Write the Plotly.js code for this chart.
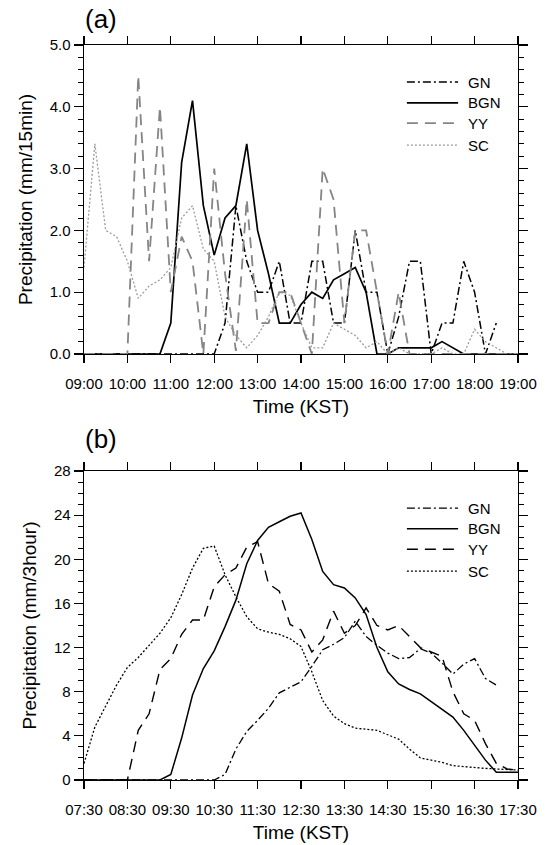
<!DOCTYPE html>
<html><head><meta charset="utf-8">
<script src="https://cdn.plot.ly/plotly-3.0.1.min.js"></script>
<style>html,body{margin:0;padding:0;background:#fff}#chart{width:555px;height:845px}</style>
</head><body><div id="chart"></div>
<script>
// ---------- DATA ----------
const seriesNames = ['GN', 'BGN', 'YY', 'SC'];

// Panel (a): 15-min precipitation (mm/15min)
const timesA = ['09:00','09:15','09:30','09:45','10:00','10:15','10:30','10:45','11:00','11:15','11:30','11:45',
  '12:00','12:15','12:30','12:45','13:00','13:15','13:30','13:45','14:00','14:15','14:30','14:45',
  '15:00','15:15','15:30','15:45','16:00','16:15','16:30','16:45','17:00','17:15','17:30','17:45',
  '18:00','18:15','18:30','18:45','19:00'];
const gnA  = [0,0,0,0,0,0,0,0,0,0,0,0,0, 0.5,2.4,1.5,1.0,1.0,1.5,0.5,0.5,1.5,1.5,0.5,0.5,2.0,1.0,1.0,0,0.6,1.5,1.5,0,0.5,0.5,1.5,1.0,0,0.5];
const bgnA = [0,0,0,0,0,0,0,0, 0.5,3.1,4.1,2.4,1.6,2.2,2.4,3.4,2.0,1.3,0.5,0.5,0.8,1.0,0.9,1.2,1.3,1.4,1.0,0,0,0.1,0.1,0.1,0.1,0.2,0.1,0,0,0,0,0,0];
const yyA  = [0,0,0,0,0, 4.5,1.5,4.0,1.0,1.9,1.5,0,3.0,1.3,0.05,2.5,0.5,0.5,1.0,1.0,0.5,0,3.0,2.5,0.5,2.0,2.0,1.0,0,1.0,0, 0,0,0,0,0,0,0,0,0,0];
const scA  = [1.4,3.4,2.0,1.9,1.5,0.9,1.1,1.2,1.4,2.2,2.4,1.7,1.5,0.6,0.3,0.1,0.3,0.6,1.0,0.95,0.5,0.1,0.1,0.5,0.4,0.3,0.1,0.2,0,0.1,0,0,0,0.1,0,0,0.4,0.2,0.1,0,0];
const tickLabelsA = ['09:00','10:00','11:00','12:00','13:00','14:00','15:00','16:00','17:00','18:00','19:00'];

// Panel (b): 3-hour accumulated precipitation (mm/3hour)
const timesB = ['07:30','07:45','08:00','08:15','08:30','08:45','09:00','09:15','09:30','09:45','10:00','10:15',
  '10:30','10:45','11:00','11:15','11:30','11:45','12:00','12:15','12:30','12:45','13:00','13:15',
  '13:30','13:45','14:00','14:15','14:30','14:45','15:00','15:15','15:30','15:45','16:00','16:15',
  '16:30','16:45','17:00','17:15','17:30'];
const gnB  = [0,0,0,0,0,0,0,0,0,0,0,0,0, 0.5,2.8,4.4,5.4,6.5,7.9,8.4,8.9,10.3,11.8,12.3,12.9,14.4,13.0,12.2,11.5,11.0,11.1,11.9,11.5,10.6,9.6,10.5,11.0,9.2,8.6];
const bgnB = [0,0,0,0,0,0,0,0, 0.5,3.8,7.7,10.1,11.7,13.9,16.3,19.6,21.7,22.9,23.4,23.9,24.2,21.8,18.9,17.7,17.4,16.5,15.0,12.0,9.8,8.7,8.2,7.8,7.1,6.4,5.7,4.5,3.2,1.8,0.7,0.7,0.7];
const yyB  = [0,0,0,0,0, 4.5,6.0,10.0,11.0,13.2,14.5,14.5,17.5,18.6,19.2,21.1,21.6,17.8,17.1,14.1,13.6,11.6,12.7,15.3,13.3,14.0,15.6,14.0,13.6,14.0,13.0,12.0,11.6,11.2,8.0,6.0,5.4,3.3,1.5,1.0,0.9];
const scB  = [1.5,4.8,6.7,8.6,10.2,11.1,12.2,13.3,14.7,16.8,19.2,21.0,21.2,18.6,16.6,14.8,13.7,13.4,13.2,12.8,12.1,9.8,7.2,5.8,5.1,4.7,4.6,4.5,4.1,3.7,2.8,2.0,1.8,1.6,1.3,1.2,1.1,1.05,1.0,0.95,0.9];
const tickLabelsB = ['07:30','08:30','09:30','10:30','11:30','12:30','13:30','14:30','15:30','16:30','17:30'];

// ---------- STYLE ----------
const FONT = 'Liberation Sans, Arial, Helvetica, sans-serif';
const DAY = '2000-01-01 ';
const stylesA = {
  GN:  {color: '#000000', dash: '8px,3px,2px,3px', width: 1.5},
  BGN: {color: '#000000', dash: 'solid', width: 1.7},
  YY:  {color: '#858585', dash: '11px,7px', width: 1.8},
  SC:  {color: '#9a9a9a', dash: '2px,2px', width: 1.3}
};
const stylesB = {
  GN:  {color: '#000000', dash: '8px,3px,2px,3px', width: 1.3},
  BGN: {color: '#000000', dash: 'solid', width: 1.5},
  YY:  {color: '#000000', dash: '11px,7px', width: 1.4},
  SC:  {color: '#000000', dash: '2px,2px', width: 1.3}
};

const dataA = {GN: gnA, BGN: bgnA, YY: yyA, SC: scA};
const dataB = {GN: gnB, BGN: bgnB, YY: yyB, SC: scB};
const xA = timesA.map(t => DAY + t);
const xB = timesB.map(t => DAY + t);

const traces = [];
seriesNames.forEach(n => {
  traces.push({x: xA.slice(0, dataA[n].length), y: dataA[n], name: n, type: 'scatter', mode: 'lines',
    xaxis: 'x', yaxis: 'y', line: stylesA[n], showlegend: false, hoverinfo: 'skip'});
});
seriesNames.forEach(n => {
  traces.push({x: xB.slice(0, dataB[n].length), y: dataB[n], name: n, type: 'scatter', mode: 'lines',
    xaxis: 'x2', yaxis: 'y2', line: stylesB[n], showlegend: false, hoverinfo: 'skip'});
});

// manual legends (long line samples like the original)
const legendRows = [0.880, 0.813, 0.747, 0.676];
const shapes = [], annotations = [];
[['x domain', 'y domain', stylesA], ['x2 domain', 'y2 domain', stylesB]].forEach(([xr, yr, st]) => {
  seriesNames.forEach((n, i) => {
    shapes.push({type: 'line', xref: xr, yref: yr, x0: 0.744, x1: 0.862, y0: legendRows[i], y1: legendRows[i],
      line: {color: st[n].color, width: st[n].width, dash: st[n].dash}});
    annotations.push({xref: xr, yref: yr, x: 0.881, y: legendRows[i], xanchor: 'left', yanchor: 'middle',
      text: n, showarrow: false, font: {family: FONT, size: 15, color: '#000'}});
  });
});
annotations.push({xref: 'paper', yref: 'paper', x: -0.002, y: 1.035, xanchor: 'left', yanchor: 'middle',
  text: '(a)', showarrow: false, font: {family: FONT, size: 26, color: '#000'}});
annotations.push({xref: 'paper', yref: 'paper', x: -0.002, y: 0.464, xanchor: 'left', yanchor: 'middle',
  text: '(b)', showarrow: false, font: {family: FONT, size: 26, color: '#000'}});

function xAxis(labels, anchor) {
  return {
    type: 'date', anchor: anchor, domain: [0, 1],
    range: [DAY + labels[0], DAY + labels[labels.length - 1]],
    tick0: DAY + labels[0], dtick: 3600000, tickformat: '%H:%M',
    showline: true, linecolor: '#000', linewidth: 1.4, mirror: 'ticks',
    ticks: 'outside', ticklen: 8, tickwidth: 1.2, tickcolor: '#000',
    ticklabelstandoff: 8,
    tickfont: {family: FONT, size: 15, color: '#000'},
    showgrid: false, zeroline: false, fixedrange: true,
    title: {text: 'Time (KST)', font: {family: FONT, size: 19, color: '#000'}, standoff: 8}
  };
}
function yAxis(anchor, domain, range, dtick, minorDtick, fmt, title) {
  return {
    anchor: anchor, domain: domain, range: range, dtick: dtick, tick0: 0, tickformat: fmt,
    showline: true, linecolor: '#000', linewidth: 1.4, mirror: 'ticks',
    ticks: 'outside', ticklen: 9, tickwidth: 1.2, tickcolor: '#000',
    minor: {dtick: minorDtick, ticks: 'outside', ticklen: 5, tickwidth: 1, tickcolor: '#000', showgrid: false},
    tickfont: {family: FONT, size: 15, color: '#000'},
    showgrid: false, zeroline: false, fixedrange: true,
    title: {text: title, font: {family: FONT, size: 19, color: '#000'}, standoff: 12}
  };
}

const layout = {
  width: 555, height: 845,
  margin: {l: 84, r: 37, t: 45, b: 65},
  paper_bgcolor: '#fff', plot_bgcolor: '#fff',
  showlegend: false,
  xaxis: xAxis(tickLabelsA, 'y'),
  yaxis: yAxis('x', [0.5796, 1], [0, 5], 1, 0.2, '.1f', 'Precipitation (mm/15min)'),
  xaxis2: xAxis(tickLabelsB, 'y2'),
  yaxis2: yAxis('x2', [0, 0.4204], [0, 28], 4, 1, 'd', 'Precipitation (mm/3hour)'),
  shapes: shapes,
  annotations: annotations
};

Plotly.newPlot('chart', traces, layout, {staticPlot: true, displayModeBar: false});
</script>
</body></html>
